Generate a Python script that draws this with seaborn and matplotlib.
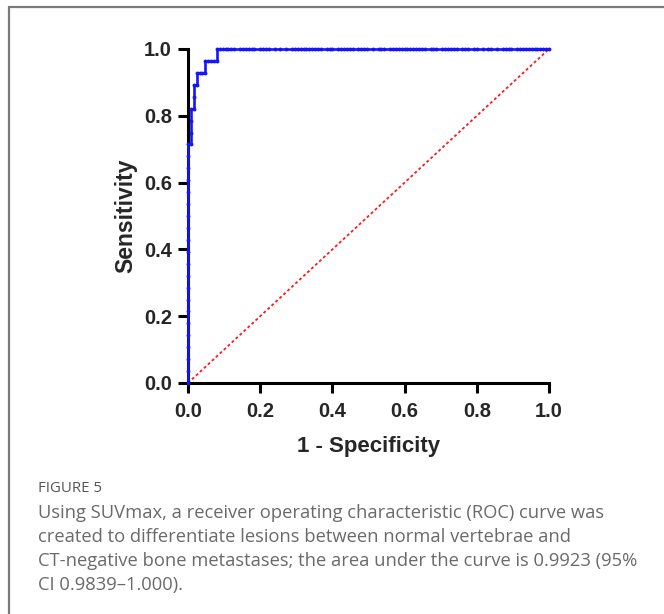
import numpy as np
import pandas as pd
import matplotlib
matplotlib.use("Agg")
import matplotlib.pyplot as plt
from matplotlib.lines import Line2D
import seaborn as sns

# --- DATA ---
N_NEG = 125   # negatives (normal vertebrae)
N_POS = 28    # positives (CT-negative metastases)

# step part of the ROC curve, as counts of false / true positives
fp_counts = [0, 0, 0, 0, 0, 0, 0, 0, 0, 0, 0, 0, 0, 0, 0, 0, 0, 0, 0, 0, 0,
             1, 1, 1, 1,
             2, 2, 2,
             3, 3,
             4, 5, 6,
             6,
             7, 8, 9, 10,
             10]
tp_counts = [0, 1, 2, 3, 4, 5, 6, 7, 8, 9, 10, 11, 12, 13, 14, 15, 16, 17, 18, 19, 20,
             20, 21, 22, 23,
             23, 24, 25,
             25, 26,
             26, 26, 26,
             27,
             27, 27, 27, 27,
             28]

# thresholds along the top (sensitivity = 1.0), false positive counts
top_fp = [11, 12, 13, 14, 15, 16, 18, 19, 20, 21, 22, 23, 25, 26, 27, 28,
          30, 32, 34, 36, 37, 38, 39, 40, 41, 42, 43, 44, 45, 46,
          48, 49, 50, 52, 53, 54, 55, 56, 57, 59, 60, 61, 62, 64, 66, 67, 68,
          70, 71, 72, 73, 74, 75, 76, 77, 78, 79, 80, 81, 82, 84, 85, 86,
          88, 89, 90, 91, 92, 93, 95, 96, 97, 99, 100, 102, 104, 105, 107,
          109, 110, 111, 112, 114, 115, 116, 117, 118, 119, 120, 121, 122,
          123, 124, 125]

chance = [0.0, 1.0]
ticks = [0.0, 0.2, 0.4, 0.6, 0.8, 1.0]

caption_title = "FIGURE 5"
caption_lines = [
    "Using SUVmax, a receiver operating characteristic (ROC) curve was",
    "created to differentiate lesions between normal vertebrae and",
    "CT-negative bone metastases; the area under the curve is 0.9923 (95%",
    "CI 0.9839\u20131.000).",
]

# --- STYLE ---
sns.set_theme(style="ticks")
plt.rcParams['font.family'] = ['Liberation Sans', 'DejaVu Sans']

roc = pd.DataFrame({
    'fp': fp_counts + top_fp,
    'tp': tp_counts + [N_POS] * len(top_fp),
})
roc['fpr'] = roc['fp'] / N_NEG
roc['tpr'] = roc['tp'] / N_POS

fig = plt.figure(figsize=(6.64, 6.14), dpi=100)
ax = fig.add_axes([188 / 664, 1 - 383 / 614, 361 / 664, 334 / 614])

sns.lineplot(x=chance, y=chance, ax=ax, color='#ff1a1a', linewidth=1.3,
             linestyle=(0, (1.6, 1.4)), zorder=2)
sns.lineplot(data=roc, x='fpr', y='tpr', ax=ax, sort=False, estimator=None,
             color='#1414ff', linewidth=1.9, marker='o', markersize=2.8,
             markeredgewidth=0, clip_on=False, zorder=3)

ax.set_xlim(0, 1)
ax.set_ylim(0, 1)
ax.set_xticks(ticks)
ax.set_yticks(ticks)
ax.set_xticklabels([f"{t:.1f}" for t in ticks])
ax.set_yticklabels([f"{t:.1f}" for t in ticks])
ax.tick_params(axis='both', length=7.5, width=2.2, color='black',
               labelsize=14.5)
ax.tick_params(axis='x', pad=6)
ax.tick_params(axis='y', pad=4)
for lab in ax.get_xticklabels() + ax.get_yticklabels():
    lab.set_fontweight('bold')
for side in ['top', 'right']:
    ax.spines[side].set_visible(False)
for side in ['left', 'bottom']:
    ax.spines[side].set_linewidth(2.2)
    ax.spines[side].set_color('black')

ax.set_xlabel("1 - Specificity", fontsize=16, fontweight='bold', labelpad=11)
ax.set_ylabel("Sensitivity", fontsize=16.5, fontweight='bold', labelpad=5)

# figure frame (left and top border of the panel)
fig.add_artist(Line2D([8.5 / 664, 8.5 / 664], [0, 1 - 6.5 / 614],
                      transform=fig.transFigure, color='#7a7a7a', linewidth=1.6))
fig.add_artist(Line2D([8.5 / 664, 1], [1 - 6.5 / 614, 1 - 6.5 / 614],
                      transform=fig.transFigure, color='#7a7a7a', linewidth=1.6))

# caption
fig.text(38 / 664, 1 - 489 / 614, caption_title, fontsize=10.8, color='#555555',
         family=['Open Sans', 'DejaVu Sans'], va='center', ha='left')
for i, line in enumerate(caption_lines):
    fig.text(38 / 664, 1 - (513 + 24 * i) / 614, line, fontsize=13.2,
             color='#6a6a6a', family=['Open Sans', 'DejaVu Sans'],
             va='center', ha='left')

fig.savefig("out.png", dpi=100)
plt.close(fig)
